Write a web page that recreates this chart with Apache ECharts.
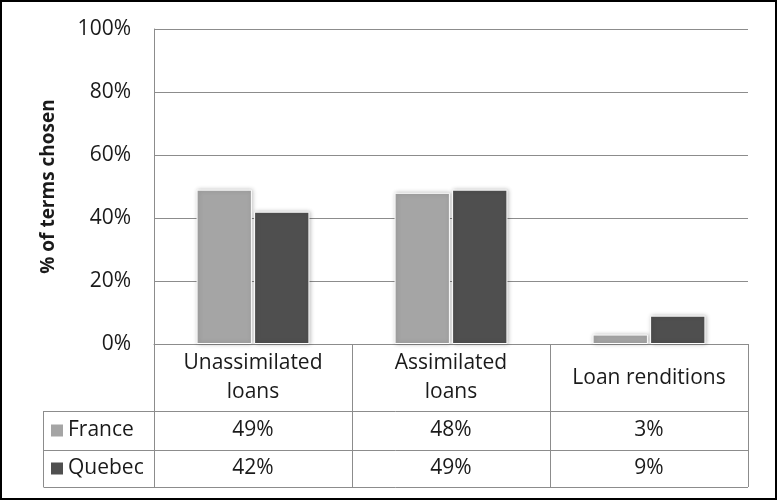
<!DOCTYPE html>
<html><head><meta charset="utf-8">
<script src="https://cdn.jsdelivr.net/npm/echarts@6/dist/echarts.min.js"></script>
<style>html,body{margin:0;padding:0;background:#fff}#c{width:777px;height:500px}</style>
</head><body><div id="c"></div>
<script>
const categories = ['Unassimilated\nloans', 'Assimilated\nloans', 'Loan renditions'];
const seriesNames = ['France', 'Quebec'];
const france = [49, 48, 3];
const quebec = [42, 49, 9];
const yTickValues = [0, 20, 40, 60, 80, 100];
const yTitle = '% of terms chosen';

const FONT = "'Open Sans', 'DejaVu Sans', sans-serif";
const COLORS = ['#a5a5a5', '#4f4f4f'];
const LINE = '#8c8c8c';
const TXT = '#1a1a1a';
const FS = 21;

const chart = echarts.init(document.getElementById('c'), null, {renderer: 'canvas'});

function barSeries(name, data, color) {
  return {
    name: name, type: 'bar', data: data,
    barGap: '4%', barCategoryGap: '43%',
    itemStyle: {color: color, borderColor: '#ffffff', borderWidth: 1,
      shadowBlur: 4, shadowColor: 'rgba(0,0,0,0.25)', shadowOffsetX: 1, shadowOffsetY: 0},
    animation: false
  };
}

chart.setOption({
  animation: false,
  backgroundColor: '#ffffff',
  textStyle: {fontFamily: FONT},
  grid: {left: 154, right: 29, top: 29, bottom: 156, containLabel: false},
  xAxis: {
    type: 'category', data: categories,
    axisLine: {show: true, lineStyle: {color: LINE, width: 1}},
    axisTick: {show: false},
    axisLabel: {fontFamily: FONT, fontSize: FS, color: TXT, lineHeight: 29,
      verticalAlign: 'middle', margin: 34, interval: 0}
  },
  yAxis: {
    type: 'value', min: yTickValues[0], max: yTickValues[yTickValues.length - 1], interval: 20,
    name: yTitle, nameLocation: 'middle', nameRotate: 90, nameGap: 96,
    nameTextStyle: {fontFamily: FONT, fontSize: 19, fontWeight: 'bold', color: TXT},
    axisLine: {show: true, lineStyle: {color: LINE, width: 1}},
    axisTick: {show: false},
    axisLabel: {fontFamily: FONT, fontSize: FS, color: TXT, margin: 23, formatter: '{value}%'},
    splitLine: {show: true, lineStyle: {color: LINE, width: 1}}
  },
  series: [barSeries(seriesNames[0], france, COLORS[0]), barSeries(seriesNames[1], quebec, COLORS[1])]
});

// Data table under the plot, positioned from the axes
function buildTable() {
  const n = categories.length;
  const c0 = chart.convertToPixel({xAxisIndex: 0}, 0);
  const c1 = chart.convertToPixel({xAxisIndex: 0}, 1);
  const cw = c1 - c0;
  const y0 = chart.convertToPixel({yAxisIndex: 0}, 0);
  const leftPlot = c0 - cw / 2;
  const rightPlot = leftPlot + cw * n;
  const headerH = 67, rowH = [39, 37];
  const legendLeft = 43;
  const rowTop1 = y0 + headerH;
  const rowTop2 = rowTop1 + rowH[0];
  const tableBottom = rowTop2 + rowH[1];
  const g = [];
  const ls = {stroke: LINE, lineWidth: 1};
  for (let i = 0; i <= n; i++) {
    const x = Math.round(leftPlot + cw * i) + 0.5;
    g.push({type: 'line', shape: {x1: x, y1: y0, x2: x, y2: tableBottom}, style: ls, silent: true});
  }
  const lx = legendLeft + 0.5;
  g.push({type: 'line', shape: {x1: lx, y1: rowTop1, x2: lx, y2: tableBottom}, style: ls});
  [rowTop1, rowTop2, tableBottom].forEach(function (y) {
    const yy = Math.round(y) + 0.5;
    g.push({type: 'line', shape: {x1: lx, y1: yy, x2: rightPlot, y2: yy}, style: ls});
  });
  const rows = [france, quebec];
  const rowTops = [rowTop1, rowTop2];
  rows.forEach(function (vals, r) {
    const cy = rowTops[r] + rowH[r] / 2;
    g.push({type: 'rect', shape: {x: 51, y: cy - 6, width: 12, height: 12}, style: {fill: COLORS[r]}});
    g.push({type: 'text', x: 68, y: cy, style: {text: seriesNames[r], font: FS + 'px ' + FONT, fill: TXT,
      textAlign: 'left', align: 'left', textVerticalAlign: 'middle', verticalAlign: 'middle'}});
    vals.forEach(function (v, i) {
      const cx = chart.convertToPixel({xAxisIndex: 0}, i);
      g.push({type: 'text', x: cx, y: cy, style: {text: v + '%', font: FS + 'px ' + FONT, fill: TXT,
        align: 'center', textAlign: 'center', verticalAlign: 'middle', textVerticalAlign: 'middle'}});
    });
  });
  g.push({type: 'rect', shape: {x: 1, y: 1, width: 775, height: 498}, style: {fill: 'none', stroke: '#000', lineWidth: 2}});
  chart.setOption({graphic: {elements: g}});
}
buildTable();
</script>
</body></html>
